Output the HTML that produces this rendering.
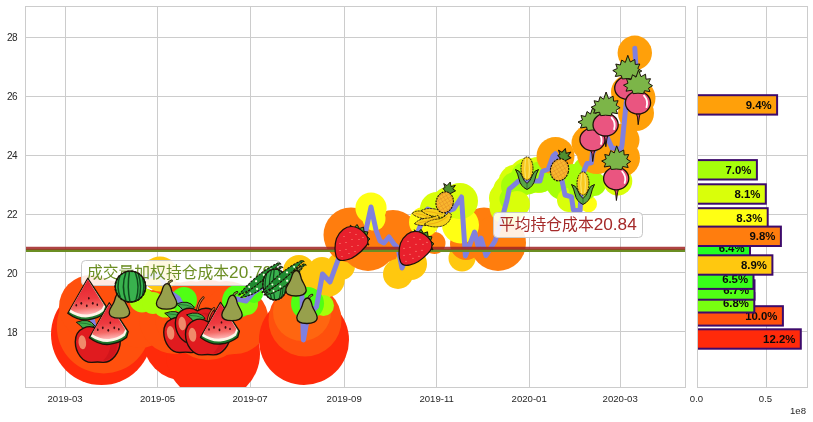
<!DOCTYPE html>
<html><head><meta charset="utf-8"><title>chart</title>
<style>html,body{margin:0;padding:0;background:#fff}svg{display:block}text{font-family:"Liberation Sans","Noto Sans CJK SC",sans-serif}</style></head><body>
<svg width="813" height="422" viewBox="0 0 813 422">
<defs><clipPath id="cm"><rect x="25.5" y="6.5" width="660" height="381"/></clipPath>
<clipPath id="cr"><rect x="697.5" y="6.5" width="110" height="381"/></clipPath>

<linearGradient id="wmg" x1="0.45" y1="0" x2="0.55" y2="1">
 <stop offset="0" stop-color="#e3202c"/><stop offset="0.55" stop-color="#ee3a40"/><stop offset="0.8" stop-color="#f46a66"/><stop offset="1" stop-color="#fbb"/>
</linearGradient>
<g id="slice">
 <path d="M0,0 L-20,35 Q-10,42.6 0,41.6 Q10,40.6 17.2,34.8 L18.9,28.8 Z" fill="#1f7a2e" stroke="#1c1208" stroke-width="1.3" stroke-linejoin="round"/>
 <path d="M0,1.2 L-18.6,33.6 Q-9.5,39.8 0,39 Q9,38.2 15.6,33 L17.4,28.2 Z" fill="#fdf6ea"/>
 <path d="M0,1.2 L-17.4,31.3 Q-9,36.9 0,36.2 Q8,35.4 14,30.8 L16,26.6 Z" fill="url(#wmg)"/>
 <g fill="#3a0d10"><ellipse cx="-6.5" cy="25" rx="0.9" ry="1.4"/><ellipse cx="-1" cy="27.5" rx="0.9" ry="1.4"/><ellipse cx="5" cy="25" rx="0.9" ry="1.4"/><ellipse cx="-11.5" cy="27" rx="0.8" ry="1.2"/><ellipse cx="1" cy="20" rx="0.8" ry="1.2"/><ellipse cx="9.5" cy="26.5" rx="0.8" ry="1.2"/></g>
</g>
<g id="apple">
 <path d="M-3,-19 Q-9,-27.5 -21.5,-22.5 Q-17,-19.5 -15,-16.5 Q-9,-14.5 -3,-19 Z" fill="#3fae49" stroke="#1c1208" stroke-width="1"/>
 <path d="M-4,-19 Q-11,-22 -19,-22" fill="none" stroke="#1d6b2a" stroke-width="0.8"/>
 <path d="M0,-16 Q1,-24 6,-29" fill="none" stroke="#1c1208" stroke-width="2.6" stroke-linecap="round"/>
 <path d="M0,-16 Q1,-24 6,-29" fill="none" stroke="#e0713a" stroke-width="1.1" stroke-linecap="round"/>
 <path d="M0,-15.5 C-8,-21 -22.5,-17.5 -22.5,-3 C-22.5,8 -15,18 -6,17.6 Q0,16.8 5,17.6 C14,18 22.5,8 22.5,-4 C22.5,-17.5 9,-21 0,-15.5 Z" fill="#e01b1f" stroke="#1c1208" stroke-width="1.4"/>
 <path d="M4,-13 C12,-15 19,-10 19.5,-2 C20,8 13,16 5,16 C11,11 14,2 12,-5 C11,-9 8,-12 4,-13 Z" fill="#c21018" opacity="0.5"/>
 <ellipse cx="-15.5" cy="-2.5" rx="3.8" ry="7" fill="#f08a6a" transform="rotate(-6 -15.5 -2.5)"/>
</g>
<g id="melon">
 <ellipse cx="0" cy="0" rx="15.2" ry="15.4" fill="#39b24e" stroke="#1c1208" stroke-width="1.3"/>
 <g fill="none" stroke="#0f4a1c" stroke-width="1.5" stroke-linecap="round">
  <path d="M-10.5,-10.5 Q-14.5,0 -10,11"/><path d="M-4.5,-14 Q-9.5,0 -4.5,14"/><path d="M-1,-14.5 Q-3.5,0 -0.5,14.8"/><path d="M5,-14 Q10,0 5.5,14"/><path d="M8,-12.5 Q12,0 8.5,12.5"/><path d="M12.3,-8 Q14.5,0 12.3,8"/>
 </g>
 <ellipse cx="0" cy="0" rx="15.2" ry="15.4" fill="none" stroke="#1c1208" stroke-width="1.6" stroke-dasharray="2.2 1.4"/>
</g>
<g id="pear">
 <path d="M1.5,-11 Q2.5,-13.8 5,-14.4" fill="none" stroke="#1c1208" stroke-width="2.6" stroke-linecap="round"/>
 <path d="M1.5,-11 Q2.5,-13.8 5,-14.4" fill="none" stroke="#8a8a3e" stroke-width="1.2" stroke-linecap="round"/>
 <path d="M0.5,-11.5 C-2.5,-11.5 -3.8,-8 -4.8,-3.8 C-6,0.8 -10.2,4 -10.2,8.2 C-10.2,12.2 -5.5,14 0,14 C5.5,14 10.2,12.2 10.2,8.2 C10.2,4 6.5,0.8 5.2,-3.8 C4.2,-8 3.5,-11.5 0.5,-11.5 Z" fill="#97a04c" stroke="#1c1208" stroke-width="1.3"/>
</g>
<g id="pod"><g transform="rotate(-37.8) translate(0,1.6) scale(1,-1)">
 <path d="M-25,-1 Q-14,-7.5 0,-6.6 Q14,-6 24,-2.2 L26.5,-3.2 L26,-0.8 Q14,0.4 0,-0.4 Q-12,-0.8 -25,-1 Z" fill="#279a38" stroke="#1c1208" stroke-width="1.1" stroke-dasharray="2.6 0.9" stroke-linejoin="round"/>
 <path d="M-25.5,2.2 Q-13,-1.8 0,-0.8 Q14,0 25,1.6 L27,0.8 L26.6,3 Q14,6.2 0,5.6 Q-13,5 -25.5,2.2 Z" fill="#1f8a30" stroke="#1c1208" stroke-width="1.1" stroke-dasharray="2.6 0.9" stroke-linejoin="round"/>
 <g fill="#f2ffe0"><circle cx="-15" cy="-3.6" r="1"/><circle cx="-7" cy="-4.2" r="1.1"/><circle cx="2" cy="-3.9" r="1.1"/><circle cx="11" cy="-3.4" r="1"/><circle cx="-12" cy="2.2" r="1"/><circle cx="-3" cy="2.4" r="1.1"/><circle cx="7" cy="2.8" r="1.1"/><circle cx="16" cy="2.8" r="1"/></g>
</g></g>
<g id="straw">
 <path d="M-2,-17.5 L2,-14.5 L5,-18 L7.5,-14 L11.5,-15.5 L12,-11 L16,-10.5 L14.5,-6.5 L18,-3.5 L15,-1 L17,2.5 L12,1 L3,-10 Z" fill="#4f9c2e" stroke="#1c1208" stroke-width="1" stroke-linejoin="round"/>
 <path d="M-1,-16 C-6,-16 -12,-12 -15.5,-4 C-17.5,2 -17.5,10 -15.5,14.5 C-14,18 -10,18.5 -6,17.5 C0,16.5 8,11 14.5,3 C17,-1 16,-6 12,-10 C8,-14 3,-16 -1,-16 Z" fill="#e8202c" stroke="#1c1208" stroke-width="1.2"/>
 <g fill="#ff9a8a"><circle cx="-8" cy="-6" r="0.6"/><circle cx="-2" cy="-10" r="0.6"/><circle cx="4" cy="-8" r="0.6"/><circle cx="-12" cy="1" r="0.6"/><circle cx="-6" cy="0" r="0.6"/><circle cx="0" cy="-3" r="0.6"/><circle cx="7" cy="-3" r="0.6"/><circle cx="-12" cy="8" r="0.6"/><circle cx="-6" cy="7" r="0.6"/><circle cx="0" cy="4" r="0.6"/><circle cx="6" cy="3" r="0.6"/><circle cx="-10" cy="14" r="0.6"/><circle cx="-3" cy="11" r="0.6"/><circle cx="11" cy="-5" r="0.6"/><circle cx="3" cy="9" r="0.6"/></g>
</g>
<g id="banana">
 <g fill="#f7d21a" stroke="#1c1208" stroke-width="1" stroke-dasharray="2.4 0.8" stroke-linejoin="round">
  <path d="M-19.5,-5.5 Q-16,-9.5 -9,-8 Q-3,-6.5 1,-3 L-1,1 Q-8,1.5 -14,-1.5 Q-18,-3.5 -19.5,-5.5 Z"/>
  <path d="M-10,-9 Q-4,-12.5 5,-10.5 Q12,-9 15,-6 L13,-1 Q5,-1 -2,-3.5 Q-8,-6 -10,-9 Z"/>
  <path d="M-17,6.5 Q-13,1 -5,0 Q2,-0.5 7,-3.5 L9,1.5 Q3,7.5 -5,8.5 Q-12,9 -17,6.5 Z"/>
  <path d="M-7,7 Q-1,1.5 7,1 Q14,0 18,-7 L21,-4.5 Q20.5,5 12,9 Q2,12 -7,7 Z"/>
 </g>
 <g fill="none" stroke="#e9a514" stroke-width="0.9"><path d="M-16,-5.5 Q-9,-5 -2,-1"/><path d="M-7,-8.5 Q2,-7.5 12,-4"/><path d="M-13,5.5 Q-4,4 6,-0.5"/><path d="M-3,7 Q8,6.5 17,-2"/></g>
</g>
<pattern id="pinep" width="3.2" height="3.2" patternUnits="userSpaceOnUse" patternTransform="rotate(45)"><rect width="3.2" height="3.2" fill="#f8b62e"/><path d="M0,0 H3.2 M0,0 V3.2" stroke="#e08a22" stroke-width="0.8"/></pattern>
<g id="pine">
 <path d="M0,-6.5 L-5,-10 L-3.2,-11.5 L-5.5,-15 L-1.8,-13.8 L0.5,-18 L2.3,-13.8 L6.3,-16 L4.6,-12 L7.8,-10.8 L3,-6.5 Z" fill="#4f8f2f" stroke="#1c1208" stroke-width="0.9" stroke-linejoin="round"/>
 <ellipse cx="0" cy="3" rx="8.6" ry="10.6" fill="url(#pinep)" stroke="#1c1208" stroke-width="1.1" stroke-dasharray="2 0.8"/>
</g>
<g id="corn">
 <ellipse cx="0" cy="-4.5" rx="6" ry="11.6" fill="#f8c81e" stroke="#1c1208" stroke-width="1" stroke-dasharray="1.8 0.9"/>
 <path d="M-1.5,-14 Q-3,-4 -1.5,5 M1.8,-14 Q3,-4 1.8,5" stroke="#f9e36a" stroke-width="1.2" fill="none"/>
 <path d="M-11.5,-3.5 Q-7,-2.5 -5.5,2 Q-3.5,8 0,10.5 Q3.5,8 5.5,2 Q7,-2.5 11.5,-3.5 Q9,1 8,6 Q6.5,13.5 0,16.5 Q-6.5,13.5 -8,6 Q-9,1 -11.5,-3.5 Z" fill="#58a545" stroke="#1c1208" stroke-width="1" stroke-linejoin="round"/>
 <path d="M0,10.5 V16" stroke="#2f6d2a" stroke-width="0.8"/>
</g>
<g id="radish">
 <path d="M-2.2,9.5 Q0,13 0.2,22 Q1.2,13 2.6,9.2 Z" fill="#d94670" stroke="#1c1208" stroke-width="1" stroke-linejoin="round"/>
 
 <ellipse cx="0" cy="0" rx="12.6" ry="11.3" fill="#ea5580" stroke="#1c1208" stroke-width="1.3"/>
 <path d="M6,-7 Q10.5,-2 8.5,4.5" fill="none" stroke="#fff" stroke-width="1.8" stroke-linecap="round"/>
 <path d="M0,-9.5 L-5,-9 L-6,-12.5 L-12,-11.5 L-10.5,-15 L-14.5,-17.5 L-10,-19.5 L-11.5,-24 L-7,-23 L-5.5,-28 L-2,-25.5 L0.5,-32.7 L3,-26 L7.5,-28.5 L8,-23.5 L12.5,-24 L10.5,-19.5 L14.5,-17 L10.5,-14.5 L12,-11 L6.5,-12 L5.5,-9 Z" fill="#7cb548" stroke="#1c1208" stroke-width="1" stroke-linejoin="round"/>
</g>

</defs>
<rect width="813" height="422" fill="#fff"/>
<g stroke="#cccccc" stroke-width="1" fill="none">
<line x1="65.5" y1="6.5" x2="65.5" y2="387.5"/>
<line x1="157.5" y1="6.5" x2="157.5" y2="387.5"/>
<line x1="250.5" y1="6.5" x2="250.5" y2="387.5"/>
<line x1="344.5" y1="6.5" x2="344.5" y2="387.5"/>
<line x1="436.5" y1="6.5" x2="436.5" y2="387.5"/>
<line x1="529.5" y1="6.5" x2="529.5" y2="387.5"/>
<line x1="620.5" y1="6.5" x2="620.5" y2="387.5"/>
<line x1="25.5" y1="37.5" x2="685.5" y2="37.5"/>
<line x1="25.5" y1="96.5" x2="685.5" y2="96.5"/>
<line x1="25.5" y1="155.5" x2="685.5" y2="155.5"/>
<line x1="25.5" y1="214.5" x2="685.5" y2="214.5"/>
<line x1="25.5" y1="272.5" x2="685.5" y2="272.5"/>
<line x1="25.5" y1="331.5" x2="685.5" y2="331.5"/>
<line x1="697.5" y1="6.5" x2="697.5" y2="387.5"/>
<line x1="766.5" y1="6.5" x2="766.5" y2="387.5"/>
<line x1="697.5" y1="37.5" x2="807.5" y2="37.5"/>
<line x1="697.5" y1="96.5" x2="807.5" y2="96.5"/>
<line x1="697.5" y1="155.5" x2="807.5" y2="155.5"/>
<line x1="697.5" y1="214.5" x2="807.5" y2="214.5"/>
<line x1="697.5" y1="272.5" x2="807.5" y2="272.5"/>
<line x1="697.5" y1="331.5" x2="807.5" y2="331.5"/>
</g>
<g clip-path="url(#cm)">
<circle cx="101.5" cy="334.5" r="50.5" fill="#ff2a0a"/>
<circle cx="184.5" cy="339" r="41.8" fill="#ff2a0a"/>
<circle cx="213" cy="353.6" r="47" fill="#ff2a0a"/>
<circle cx="103.6" cy="326.6" r="46.8" fill="#ff500d"/>
<circle cx="91" cy="307" r="32" fill="#ff500d"/>
<circle cx="140" cy="318" r="30" fill="#ff500d"/>
<circle cx="175" cy="318" r="36" fill="#ff500d"/>
<circle cx="208" cy="320" r="40" fill="#ff500d"/>
<circle cx="191" cy="317" r="36" fill="#ff500d"/>
<circle cx="226" cy="318" r="37" fill="#ff500d"/>
<circle cx="234.5" cy="320" r="34" fill="#ff500d"/>
<circle cx="304" cy="340" r="45" fill="#ff2a0a"/>
<circle cx="305" cy="320" r="36.5" fill="#ff500d"/>
<circle cx="302" cy="312" r="29" fill="#ff6610"/>
<circle cx="160" cy="274" r="17.5" fill="#ffc80f"/>
<circle cx="142" cy="300" r="12.5" fill="#a6ff0a"/>
<circle cx="153" cy="303" r="11" fill="#a6ff0a"/>
<circle cx="165" cy="306" r="11.5" fill="#a6ff0a"/>
<circle cx="184" cy="300" r="13" fill="#50ff14"/>
<circle cx="238.5" cy="301" r="16.5" fill="#50ff14"/>
<circle cx="247" cy="304" r="11" fill="#78ff10"/>
<circle cx="254" cy="294" r="9" fill="#50ff14"/>
<circle cx="299" cy="271" r="16" fill="#ffc80f"/>
<circle cx="318" cy="290" r="14" fill="#ffc80f"/>
<circle cx="327.8" cy="279.8" r="17" fill="#ffc80f"/>
<circle cx="341" cy="266" r="14" fill="#ffc80f"/>
<circle cx="322" cy="271" r="14" fill="#ffc80f"/>
<circle cx="323.5" cy="305.5" r="10.5" fill="#a6ff0a"/>
<circle cx="307.5" cy="303.4" r="16.5" fill="#50ff14"/>
<circle cx="351" cy="235" r="27.5" fill="#ff7d0e"/>
<circle cx="368" cy="243" r="28" fill="#ff7d0e"/>
<circle cx="393" cy="236" r="26" fill="#ff7d0e"/>
<circle cx="371" cy="208" r="15.6" fill="#ffff14"/>
<circle cx="374" cy="219" r="11.5" fill="#ffff14"/>
<circle cx="398" cy="274" r="15" fill="#ffc80f"/>
<circle cx="411" cy="264" r="16" fill="#ffc80f"/>
<circle cx="434.5" cy="243" r="11" fill="#ff7d0e"/>
<circle cx="424" cy="222" r="15" fill="#ffff14"/>
<circle cx="437" cy="209" r="17" fill="#d9ff0a"/>
<circle cx="462" cy="258" r="13.5" fill="#ffc80f"/>
<circle cx="466" cy="244" r="16" fill="#ff7d0e"/>
<circle cx="484" cy="231" r="23.5" fill="#ff7d0e"/>
<circle cx="498" cy="243" r="28" fill="#ff7d0e"/>
<circle cx="460.5" cy="225" r="18.5" fill="#ffff14"/>
<circle cx="448" cy="203" r="16" fill="#d9ff0a"/>
<circle cx="460" cy="201" r="18" fill="#d9ff0a"/>
<circle cx="505" cy="198" r="16" fill="#d9ff0a"/>
<circle cx="507" cy="207" r="17.5" fill="#d9ff0a"/>
<circle cx="510" cy="191" r="17" fill="#d9ff0a"/>
<circle cx="516" cy="182" r="17.5" fill="#d9ff0a"/>
<circle cx="527" cy="176" r="18" fill="#d9ff0a"/>
<circle cx="538" cy="175" r="18" fill="#d9ff0a"/>
<circle cx="511" cy="199" r="11.5" fill="#a6ff0a"/>
<circle cx="515" cy="186" r="14" fill="#a6ff0a"/>
<circle cx="527" cy="178" r="16.5" fill="#a6ff0a"/>
<circle cx="540" cy="177" r="15.5" fill="#a6ff0a"/>
<circle cx="517" cy="204" r="13" fill="#d9ff0a"/>
<circle cx="555.5" cy="156" r="19" fill="#ffa00a"/>
<circle cx="563" cy="183" r="17" fill="#a6ff0a"/>
<circle cx="573" cy="178" r="14" fill="#a6ff0a"/>
<circle cx="569" cy="200" r="12" fill="#d9ff0a"/>
<circle cx="577" cy="200" r="12" fill="#d9ff0a"/>
<circle cx="588.5" cy="204" r="8.5" fill="#ffff14"/>
<circle cx="583" cy="186" r="15" fill="#a6ff0a"/>
<circle cx="586" cy="170" r="13" fill="#a6ff0a"/>
<circle cx="594" cy="184" r="12" fill="#a6ff0a"/>
<circle cx="589" cy="143" r="17.5" fill="#ffa00a"/>
<circle cx="597" cy="154" r="20" fill="#ffa00a"/>
<circle cx="602" cy="128" r="17" fill="#ffa00a"/>
<circle cx="617.8" cy="181" r="14.5" fill="#d9ff0a"/>
<circle cx="621" cy="158" r="19" fill="#ffa00a"/>
<circle cx="623" cy="140" r="16.5" fill="#ffa00a"/>
<circle cx="636" cy="113" r="18" fill="#ffa00a"/>
<circle cx="637" cy="98" r="18.5" fill="#ffa00a"/>
<circle cx="628" cy="92" r="17" fill="#ffa00a"/>
<circle cx="634.8" cy="52.8" r="17.2" fill="#ffa00a"/>
<polyline points="76,304 80,298 88,300 93,322 98,345 104,330 109,320 115,310 119.4,304 125,295 130.5,286 140,280 150,276 160,274 166.6,290 178,298 182,305 188,326 200,333 208,337 215,328 221,322 228,310 232,306 237,299 246,301 253,293 262,287 274,282 285,278 296,282 301,290 302,296 303.4,340 308,315 316.5,306.8 322.5,274 330,282 338,260 350,243 362.5,232 366,230 371,207 376,230 380,241 384,243 389,237 394,244 398,248 402,268 410,250 422,222 427.6,209 440,214 453.7,209 461.5,197 465.4,255.9 474.6,232 478,246 481,238 486,255.5 495,241 503,215 507,200 509.2,189.2 518.7,181 540,181 542.4,171.5 548.3,169 553,156 555.4,153.7 562,180.7 565,195 571.5,196.8 573.4,210 580,211 582,180 583.8,171.3 587,163.5 591.4,162.7 592.4,153.3 600,140 607,137 612,148 621,149.4 622,145 626.3,102 630,84 635.8,64 634.8,48.2" fill="none" stroke="#8080de" stroke-width="5" stroke-linejoin="round" stroke-linecap="round"/>
<line x1="25.5" y1="250.4" x2="685.5" y2="250.4" stroke="#6b8e23" stroke-width="3"/>
<line x1="25.5" y1="248.3" x2="685.5" y2="248.3" stroke="#a02424" stroke-width="3" opacity="0.85"/>
</g>
<rect x="81.5" y="260.5" width="198.5" height="25" rx="4" ry="4" fill="#fff" fill-opacity="0.88" stroke="#c8c8c8" stroke-width="1"/>
<text x="86.9" y="278.2" fill="#6b8e23" font-size="15.8px">成交量加权持仓成本<tspan font-size="17.2px">20.79</tspan></text>
<rect x="493.5" y="212.5" width="149" height="25" rx="4" ry="4" fill="#fff" fill-opacity="0.88" stroke="#c8c8c8" stroke-width="1"/>
<text x="498.9" y="230.2" fill="#a52a2a" font-size="15.8px">平均持仓成本<tspan font-size="17.2px">20.84</tspan></text>
<use href="#slice" transform="translate(87.8,278.3) scale(1) "/>
<use href="#apple" transform="translate(97.8,344.8) scale(1) "/>
<use href="#slice" transform="translate(109.3,302.8) scale(1) "/>
<use href="#pear" transform="translate(119.4,304.2) scale(1) "/>
<use href="#melon" transform="translate(130.4,286.6) scale(1) "/>
<use href="#pear" transform="translate(166.6,295.2) scale(1) "/>
<use href="#apple" transform="translate(185.8,335.3) scale(0.98) "/>
<use href="#apple" transform="translate(197.4,326) scale(0.98) "/>
<use href="#apple" transform="translate(208,337.3) scale(1) "/>
<use href="#slice" transform="translate(220.5,302.4) scale(1) "/>
<use href="#pear" transform="translate(232,306.7) scale(1) "/>
<use href="#pod" transform="translate(259,280) scale(1) "/>
<use href="#melon" transform="translate(275,284.5) scale(1) scale(0.8,1.0)"/>
<use href="#pod" transform="translate(282.2,277.6) scale(1) "/>
<use href="#pear" transform="translate(296,282) scale(1) "/>
<use href="#pear" transform="translate(307,309.5) scale(1) "/>
<use href="#straw" transform="translate(352,242.5) scale(1) "/>
<use href="#straw" transform="translate(416,247.3) scale(1) "/>
<use href="#banana" transform="translate(431,218.2) scale(1) scale(0.97,0.86)"/>
<use href="#pine" transform="translate(445.4,199.4) scale(1) rotate(14)"/>
<use href="#corn" transform="translate(527,173) scale(1) "/>
<use href="#pine" transform="translate(560.3,166.8) scale(1.05) rotate(14)"/>
<use href="#corn" transform="translate(583,188) scale(1) "/>
<use href="#radish" transform="translate(592.5,139.5) scale(1) "/>
<use href="#radish" transform="translate(605.6,124.7) scale(1) "/>
<use href="#radish" transform="translate(616.2,178.5) scale(1) "/>
<use href="#radish" transform="translate(627.3,88) scale(1) "/>
<use href="#radish" transform="translate(638,102.7) scale(1) "/>
<rect x="25.5" y="6.5" width="660" height="381" fill="none" stroke="#cccccc" stroke-width="1"/>
<g fill="#262626" font-size="9.6px">
<text x="65.1" y="402" text-anchor="middle">2019-03</text>
<text x="157.6" y="402" text-anchor="middle">2019-05</text>
<text x="250.1" y="402" text-anchor="middle">2019-07</text>
<text x="344.2" y="402" text-anchor="middle">2019-09</text>
<text x="436.7" y="402" text-anchor="middle">2019-11</text>
<text x="529.2" y="402" text-anchor="middle">2020-01</text>
<text x="620.2" y="402" text-anchor="middle">2020-03</text>
<text x="16.8" y="41.2" text-anchor="end" font-size="10px" letter-spacing="-0.7">28</text>
<text x="16.8" y="100.1" text-anchor="end" font-size="10px" letter-spacing="-0.7">26</text>
<text x="16.8" y="159.0" text-anchor="end" font-size="10px" letter-spacing="-0.7">24</text>
<text x="16.8" y="217.9" text-anchor="end" font-size="10px" letter-spacing="-0.7">22</text>
<text x="16.8" y="276.8" text-anchor="end" font-size="10px" letter-spacing="-0.7">20</text>
<text x="16.8" y="335.7" text-anchor="end" font-size="10px" letter-spacing="-0.7">18</text>
<text x="696.5" y="402" text-anchor="middle">0.0</text>
<text x="765.5" y="402" text-anchor="middle">0.5</text>
<text x="806" y="414.3" text-anchor="end">1e8</text>
</g>
<g clip-path="url(#cr)">
<rect x="694.5" y="329.3" width="106.3" height="19.4" fill="#ff2a0a" stroke="#3d0a6b" stroke-width="2"/>
<text x="795.4" y="343" text-anchor="end" font-weight="bold" font-size="11.4px" fill="#0a0a0a">12.2%</text>
<rect x="694.5" y="306.2" width="88.4" height="19.4" fill="#ff500d" stroke="#3d0a6b" stroke-width="2"/>
<text x="777.5" y="319.9" text-anchor="end" font-weight="bold" font-size="11.4px" fill="#0a0a0a">10.0%</text>
<rect x="694.5" y="293.1" width="59.8" height="19.4" fill="#78ff10" stroke="#3d0a6b" stroke-width="2"/>
<text x="748.9" y="306.8" text-anchor="end" font-weight="bold" font-size="11.4px" fill="#0a0a0a">6.8%</text>
<rect x="694.5" y="280.3" width="60" height="19.4" fill="#50ff14" stroke="#3d0a6b" stroke-width="2"/>
<text x="749.1" y="294" text-anchor="end" font-weight="bold" font-size="11.4px" fill="#0a0a0a">6.7%</text>
<rect x="694.5" y="269.5" width="59" height="19.4" fill="#38ff1a" stroke="#3d0a6b" stroke-width="2"/>
<text x="748.1" y="283.2" text-anchor="end" font-weight="bold" font-size="11.4px" fill="#0a0a0a">6.5%</text>
<rect x="694.5" y="238.3" width="55.5" height="19.4" fill="#22ff22" stroke="#3d0a6b" stroke-width="2"/>
<text x="744.6" y="252" text-anchor="end" font-weight="bold" font-size="11.4px" fill="#0a0a0a">6.4%</text>
<rect x="694.5" y="255.3" width="77.9" height="19.4" fill="#ffc80f" stroke="#3d0a6b" stroke-width="2"/>
<text x="767" y="269" text-anchor="end" font-weight="bold" font-size="11.4px" fill="#0a0a0a">8.9%</text>
<rect x="694.5" y="208.2" width="73.2" height="19.4" fill="#ffff14" stroke="#3d0a6b" stroke-width="2"/>
<text x="762.3" y="221.9" text-anchor="end" font-weight="bold" font-size="11.4px" fill="#0a0a0a">8.3%</text>
<rect x="694.5" y="226.6" width="86.4" height="19.4" fill="#ff7d0e" stroke="#3d0a6b" stroke-width="2"/>
<text x="775.5" y="240.3" text-anchor="end" font-weight="bold" font-size="11.4px" fill="#0a0a0a">9.8%</text>
<rect x="694.5" y="184.3" width="71.3" height="19.4" fill="#d9ff0a" stroke="#3d0a6b" stroke-width="2"/>
<text x="760.4" y="198" text-anchor="end" font-weight="bold" font-size="11.4px" fill="#0a0a0a">8.1%</text>
<rect x="694.5" y="160.1" width="62.4" height="19.4" fill="#a6ff0a" stroke="#3d0a6b" stroke-width="2"/>
<text x="751.5" y="173.8" text-anchor="end" font-weight="bold" font-size="11.4px" fill="#0a0a0a">7.0%</text>
<rect x="694.5" y="95.2" width="82.6" height="19.4" fill="#ffa00a" stroke="#3d0a6b" stroke-width="2"/>
<text x="771.7" y="108.9" text-anchor="end" font-weight="bold" font-size="11.4px" fill="#0a0a0a">9.4%</text>
</g>
<rect x="697.5" y="6.5" width="110" height="381" fill="none" stroke="#cccccc" stroke-width="1"/>
</svg></body></html>
